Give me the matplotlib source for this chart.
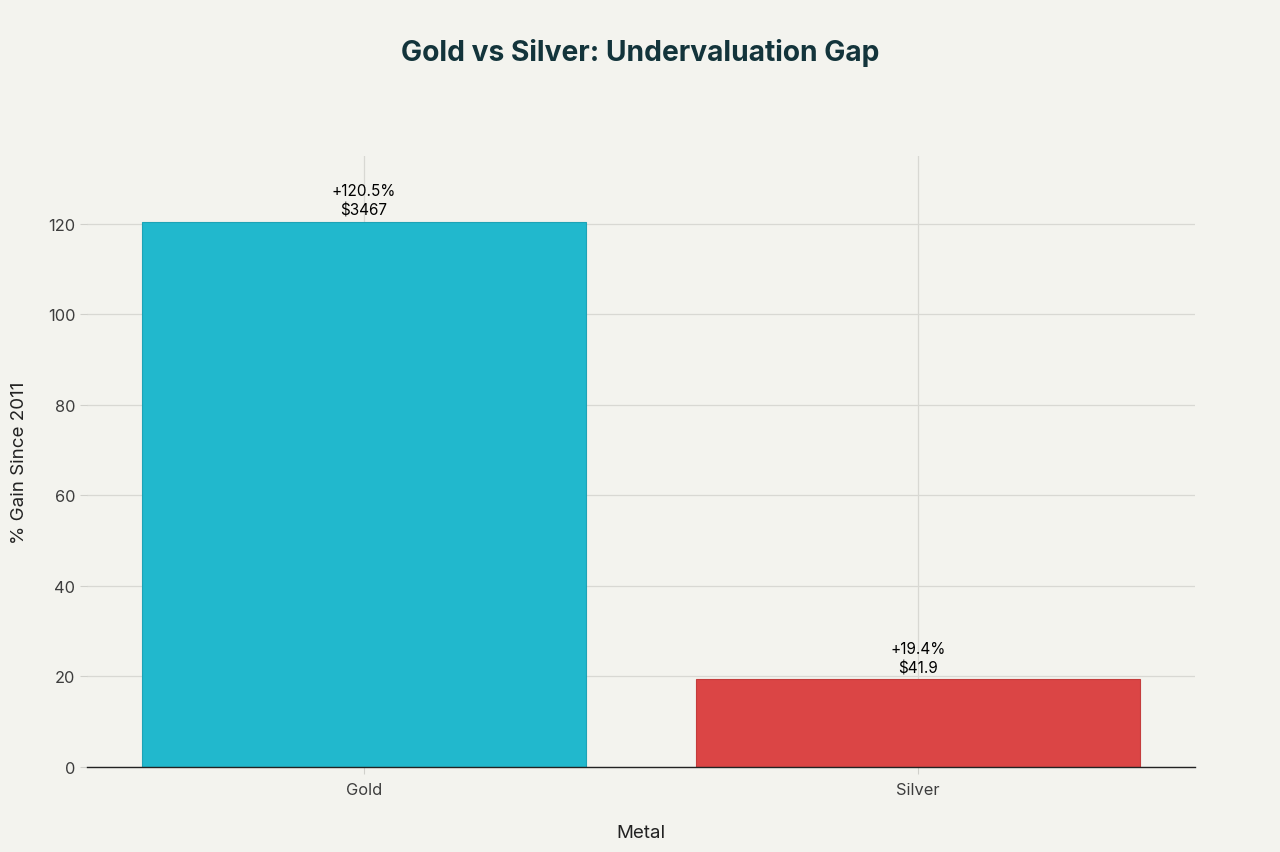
import matplotlib
matplotlib.use("Agg")
import matplotlib.pyplot as plt

metals = ["Gold", "Silver"]
gains = [120.5, 19.4]
prices = ["$3467", "$41.9"]
colors = ["#21B8CD", "#DB4545"]
edge_colors = ["#1DA3B6", "#C43C3C"]
yticks = [0, 20, 40, 60, 80, 100, 120]

plt.rcParams['font.family'] = ['Inter', 'DejaVu Sans']
bg = "#F3F3EE"
fig = plt.figure(figsize=(12.8, 8.53), dpi=100, facecolor=bg)
ax = fig.add_axes([87/1280, 85/853, 1108/1280, 611/853])
ax.set_facecolor(bg)

x = list(range(len(metals)))
ax.bar(x, gains, width=0.8, color=colors, edgecolor=edge_colors, linewidth=0.8, zorder=3)
for xi, g, p in zip(x, gains, prices):
    ax.annotate(f"+{g}%\n{p}", (xi, g), xytext=(0, 3), textcoords="offset points",
                ha="center", va="bottom", fontsize=11, color="#000000", zorder=4,
                linespacing=1.35)

ax.set_xlim(-0.5, 1.5)
ax.set_ylim(0, 135)
ax.set_yticks(yticks)
ax.set_xticks(x)
ax.set_xticklabels(metals)
ax.grid(True, color="#D8D8D3", linewidth=0.9, zorder=0)
for s in ["top", "right", "left"]:
    ax.spines[s].set_visible(False)
ax.spines["bottom"].set_color("#222222")
ax.spines["bottom"].set_linewidth(1.0)
ax.spines["bottom"].set_zorder(5)
ax.tick_params(axis="both", colors="#D0D0CB", labelcolor="#3D3D3D", labelsize=11.8, length=5)
ax.tick_params(axis="x", pad=6)
ax.set_xlabel("Metal", fontsize=13.5, color="#222222", labelpad=19)
ax.set_ylabel("% Gain Since 2011", fontsize=13.5, color="#222222", labelpad=14)
fig.suptitle("Gold vs Silver: Undervaluation Gap", x=0.5, y=1 - 53/853, va="center",
             fontsize=20.3, fontweight="bold", color="#13343B")
fig.savefig("out.png", dpi=100, facecolor=bg)
